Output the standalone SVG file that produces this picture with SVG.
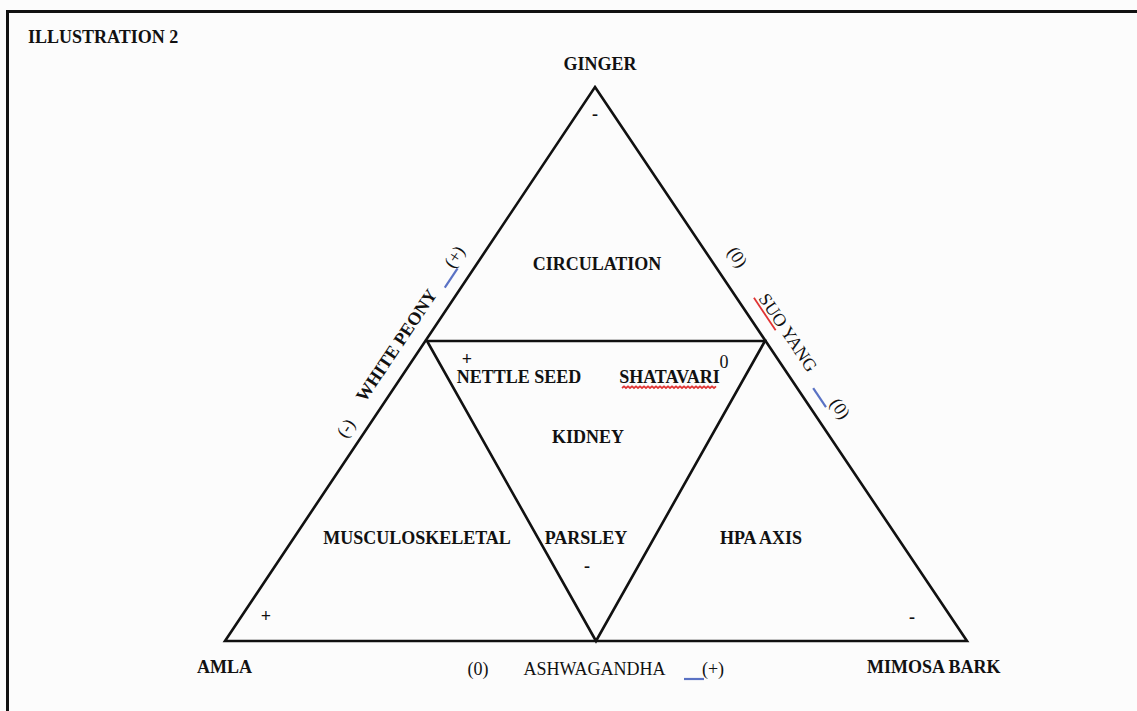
<svg xmlns="http://www.w3.org/2000/svg" width="1137" height="711" viewBox="0 0 1137 711">
<style>
.t{font-family:"Liberation Serif","Times New Roman",serif;font-weight:bold;font-size:18px;fill:#111;}
.n{font-weight:normal;}
.c{text-anchor:middle;}
.ln{stroke:#111;stroke-width:2.6;fill:none;stroke-linejoin:miter;}
.blue{stroke:#5a72c4;stroke-width:2.2;}
.red{stroke:#e03434;stroke-width:1.8;}
</style>
<rect x="0" y="0" width="1137" height="711" fill="#fcfcfc"/>
<g id="frame"><path d="M7.5,711 V11.5 H1137" stroke="#111" stroke-width="3" fill="none"/></g>
<g id="title"><text class="t" x="28" y="43">ILLUSTRATION 2</text></g>
<g id="connectors">
<polygon class="ln" points="595,87 967,641 225,641"/>
<polygon class="ln" points="427,341 765,341 596,641"/>
</g>
<g id="ginger"><text class="t c" x="600" y="70">GINGER</text><text class="t c" x="595" y="120">-</text></g>
<g id="circulation"><text class="t c" x="597" y="270">CIRCULATION</text></g>
<g id="white-peony" transform="translate(225,641) rotate(-56.2)">
<text class="t c" x="341" y="-16" font-size="17.5">WHITE PEONY</text>
<line class="blue" x1="416" y1="-14" x2="439" y2="-14"/>
<text class="t n c" x="447" y="-17" font-size="19">(+)</text>
<text class="t n c" x="244" y="-12" font-size="19">(-)</text>
</g>
<g id="suo-yang" transform="translate(596,87) rotate(56.2)">
<text class="t n c" x="220" y="-17" font-size="19">(0)</text>
<text class="t n" x="266" y="-17">SUO YANG</text>
<line class="red" x1="263" y1="-14" x2="302" y2="-14"/>
<line class="blue" x1="371" y1="-13" x2="394" y2="-13"/>
<text class="t n c" x="403" y="-18" font-size="19">(0)</text>
</g>
<g id="kidney">
<text class="t c" x="467" y="365" font-size="22">+</text>
<text class="t c" x="519" y="383" font-size="15.6">NETTLE SEED</text>
<text class="t c" x="669.5" y="383" font-size="15.6">SHATAVARI</text>
<path class="red" stroke-width="1" fill="none" d="M622,388 l2,-1.6 2,1.6 2,-1.6 2,1.6 2,-1.6 2,1.6 2,-1.6 2,1.6 2,-1.6 2,1.6 2,-1.6 2,1.6 2,-1.6 2,1.6 2,-1.6 2,1.6 2,-1.6 2,1.6 2,-1.6 2,1.6 2,-1.6 2,1.6 2,-1.6 2,1.6 2,-1.6 2,1.6 2,-1.6 2,1.6 2,-1.6 2,1.6 2,-1.6 2,1.6 2,-1.6 2,1.6 2,-1.6 2,1.6 2,-1.6 2,1.6 2,-1.6 2,1.6 2,-1.6 2,1.6 2,-1.6 2,1.6 2,-1.6 2,1.6 2,-1.6"/>
<text class="t n c" x="724" y="368" font-size="21">0</text>
<text class="t c" x="588" y="443" font-size="20">KIDNEY</text>
<text class="t c" x="586" y="544" font-size="16.5">PARSLEY</text>
<text class="t c" x="587" y="572">-</text>
</g>
<g id="musculoskeletal"><text class="t c" x="417" y="544" font-size="19.5">MUSCULOSKELETAL</text></g>
<g id="hpa-axis"><text class="t c" x="761" y="544" font-size="19.5">HPA AXIS</text></g>
<g id="amla"><text class="t c" x="266" y="622">+</text><text class="t" x="197" y="673">AMLA</text></g>
<g id="ashwagandha">
<text class="t n c" x="478" y="675" font-size="20">(0)</text>
<text class="t n c" x="594.5" y="675" font-size="19.4">ASHWAGANDHA</text>
<line class="blue" x1="684" y1="679" x2="704" y2="679"/>
<text class="t n c" x="713" y="675" font-size="20">(+)</text>
</g>
<g id="mimosa-bark"><text class="t c" x="912" y="623">-</text><text class="t" x="867" y="673" font-size="18.7">MIMOSA BARK</text></g>
</svg>
